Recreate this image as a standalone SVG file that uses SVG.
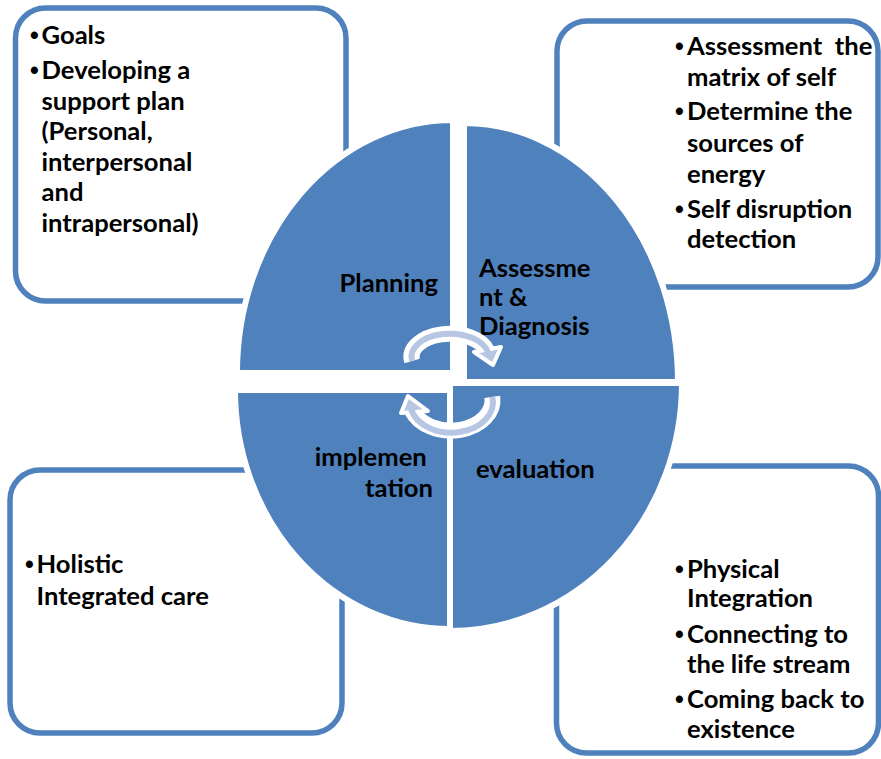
<svg xmlns="http://www.w3.org/2000/svg" width="881" height="759" viewBox="0 0 881 759">
  <style>
    .box { fill: #FFFFFF; stroke: #4F81BD; stroke-width: 5.5; }
    .quad { fill: #4F81BD; stroke: #FFFFFF; stroke-width: 6; }
    .txt { font-family: Lato, "Liberation Sans", sans-serif; font-weight: bold; font-size: 25.6px; fill: #000000; }
    .bul { font-family: "Liberation Sans", Arial, sans-serif; font-weight: bold; font-size: 25px; }
    .pre { white-space: pre; }
    .band-out { fill: none; stroke: #FFFFFF; stroke-width: 16; }
    .band-in { fill: none; stroke: #B7C6E3; stroke-width: 6; }
    .head { fill: #B7C6E3; stroke: #FFFFFF; stroke-width: 4; stroke-linejoin: round; }
  </style>

  <!-- corner boxes -->
  <g id="box-goals">
    <rect class="box" x="15.5" y="8" width="330.5" height="293" rx="30"/>
    <text class="txt">
      <tspan class="bul" x="30" y="44">•</tspan><tspan x="41.5" y="44">Goals</tspan>
      <tspan class="bul" x="30" y="79">•</tspan><tspan x="41.5" y="79">Developing a</tspan>
      <tspan x="41.5" y="110">support plan</tspan>
      <tspan x="41.5" y="140">(Personal,</tspan>
      <tspan x="41.5" y="171">interpersonal</tspan>
      <tspan x="41.5" y="201">and</tspan>
      <tspan x="41.5" y="232">intrapersonal)</tspan>
    </text>
  </g>

  <g id="box-assessment">
    <rect class="box" x="557" y="21" width="321" height="266" rx="30"/>
    <text class="txt">
      <tspan class="bul" x="675" y="55">•</tspan><tspan class="pre" x="687" y="55">Assessment  the</tspan>
      <tspan x="687" y="86">matrix of self</tspan>
      <tspan class="bul" x="675" y="120">•</tspan><tspan x="687" y="120">Determine the</tspan>
      <tspan x="687" y="152">sources of</tspan>
      <tspan x="687" y="183">energy</tspan>
      <tspan class="bul" x="675" y="218">•</tspan><tspan x="687" y="218">Self disruption</tspan>
      <tspan x="687" y="248">detection</tspan>
    </text>
  </g>

  <g id="box-implementation">
    <rect class="box" x="10" y="470" width="332" height="263" rx="30"/>
    <text class="txt">
      <tspan class="bul" x="25" y="573">•</tspan><tspan x="36.5" y="573">Holistic</tspan>
      <tspan x="36.5" y="605">Integrated care</tspan>
    </text>
  </g>

  <g id="box-evaluation">
    <rect class="box" x="556.5" y="466" width="322" height="287" rx="30"/>
    <text class="txt">
      <tspan class="bul" x="675" y="578">•</tspan><tspan x="687" y="578">Physical</tspan>
      <tspan x="687" y="607">Integration</tspan>
      <tspan class="bul" x="675" y="643">•</tspan><tspan x="687" y="643">Connecting to</tspan>
      <tspan x="687" y="673">the life stream</tspan>
      <tspan class="bul" x="675" y="708">•</tspan><tspan x="687" y="708">Coming back to</tspan>
      <tspan x="687" y="738">existence</tspan>
    </text>
  </g>

  <!-- cycle segments -->
  <g id="seg-planning">
    <path class="quad" d="M 453 373 L 237 373 A 216 253 0 0 1 453 120 Z"/>
    <text class="txt" x="438" y="292" text-anchor="end">Planning</text>
  </g>
  <g id="seg-assessment">
    <path class="quad" d="M 464 382 L 464 123 A 214 259 0 0 1 678 382 Z"/>
    <text class="txt">
      <tspan x="479" y="277">Assessme</tspan>
      <tspan x="479" y="306">nt &amp;</tspan>
      <tspan x="479" y="335">Diagnosis</tspan>
    </text>
  </g>
  <g id="seg-implementation">
    <path class="quad" d="M 450 390 L 450 629 A 215 239 0 0 1 235 390 Z"/>
    <text class="txt" text-anchor="end">
      <tspan x="433" y="466">implemen</tspan>
      <tspan x="433" y="497">tation</tspan>
    </text>
  </g>
  <g id="seg-evaluation">
    <path class="quad" d="M 450 383 L 682 383 A 232 248 0 0 1 450 631 Z"/>
    <text class="txt" x="476" y="478">evaluation</text>
  </g>

  <!-- circular arrows -->
  <g id="connectors">
    <g id="arrow-top">
      <path class="band-out" d="M 412.1 361 A 38.5 23 0 0 1 487.2 351"/>
      <polygon class="head" points="474,352 501,347 493,365"/>
      <path class="band-in" d="M 412.1 361 A 38.5 23 0 0 1 488 352.5"/>
    </g>
    <g id="arrow-bottom">
      <path class="band-out" d="M 492.3 396.8 A 41.5 30.5 0 0 1 412 410.4"/>
      <polygon class="head" points="401,413 428,411 408,396"/>
      <path class="band-in" d="M 492.3 396.8 A 41.5 30.5 0 0 1 411 409"/>
    </g>
  </g>
</svg>
